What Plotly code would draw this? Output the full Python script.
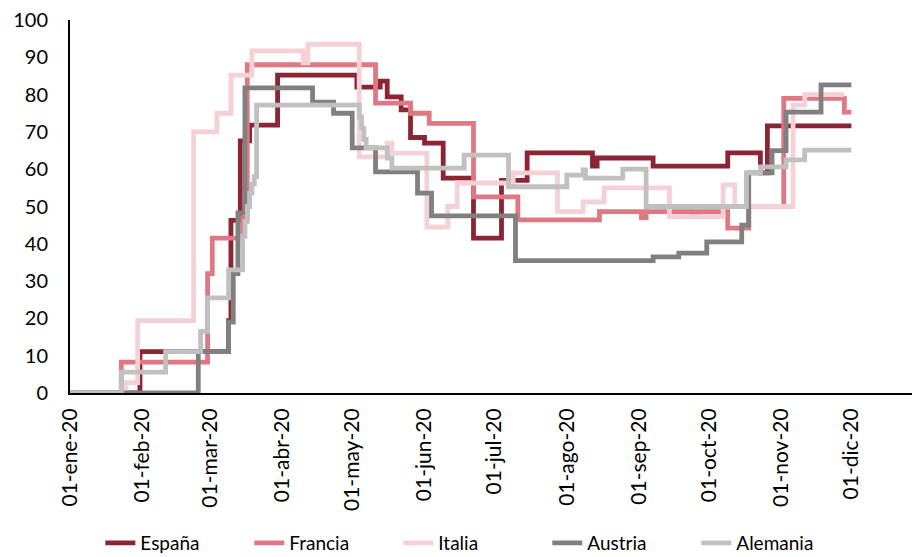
import plotly.graph_objects as go

# ---- data (step change points, OxCGRT-like stringency index) ----
espana_dates = ["2020-01-01", "2020-01-31", "2020-03-09", "2020-03-10", "2020-03-14", "2020-03-18",
                "2020-03-30", "2020-05-03", "2020-05-13", "2020-05-16", "2020-05-22", "2020-05-26",
                "2020-06-01", "2020-06-09", "2020-06-22", "2020-07-04", "2020-07-15", "2020-08-12",
                "2020-08-14", "2020-09-07", "2020-10-09", "2020-10-23", "2020-10-26", "2020-12-01"]
espana_vals = [0, 11.1, 19.4, 46.3, 67.6, 71.8,
               85.2, 82.0, 83.6, 79.4, 75.9, 68.5,
               67.0, 57.6, 41.5, 57.0, 64.4, 60.8,
               63.0, 60.8, 64.4, 59.0, 71.6, 71.6]

francia_dates = ["2020-01-01", "2020-01-23", "2020-02-29", "2020-03-02", "2020-03-15", "2020-03-17",
                 "2020-05-11", "2020-05-26", "2020-06-03", "2020-06-22", "2020-07-11", "2020-08-15",
                 "2020-09-02", "2020-09-04", "2020-09-24", "2020-09-26", "2020-10-09", "2020-10-18",
                 "2020-11-02", "2020-11-28", "2020-12-01"]
francia_vals = [0, 8.3, 32.0, 41.5, 47.0, 88.0,
                77.7, 75.0, 72.3, 52.6, 46.4, 48.6,
                47.0, 48.6, 47.5, 48.6, 44.2, 50.0,
                79.0, 75.3, 75.3]

italia_dates = ["2020-01-01", "2020-01-25", "2020-01-30", "2020-02-23", "2020-03-04", "2020-03-10",
                "2020-03-19", "2020-04-10", "2020-04-12", "2020-05-04", "2020-05-16", "2020-05-18",
                "2020-06-02", "2020-06-11", "2020-06-15", "2020-07-09", "2020-07-28", "2020-08-08",
                "2020-08-17", "2020-09-14", "2020-10-07", "2020-10-12", "2020-11-06", "2020-11-11",
                "2020-11-28"]
italia_vals = [0, 2.8, 19.4, 70.0, 75.0, 85.2,
               91.7, 88.5, 93.5, 63.3, 67.0, 64.3,
               44.5, 50.0, 56.3, 59.0, 48.6, 51.2,
               55.0, 47.3, 55.8, 50.0, 77.2, 80.0,
               80.0]

austria_dates = ["2020-01-01", "2020-02-25", "2020-03-09", "2020-03-11", "2020-03-13", "2020-03-16",
                 "2020-04-14", "2020-04-23", "2020-05-01", "2020-05-11", "2020-05-29", "2020-06-04",
                 "2020-07-10", "2020-09-07", "2020-09-18", "2020-09-30", "2020-10-15", "2020-10-18",
                 "2020-10-28", "2020-11-03", "2020-11-18", "2020-12-01"]
austria_vals = [0, 11.1, 19.0, 32.0, 48.3, 81.8,
                78.0, 75.0, 65.7, 59.3, 53.6, 47.5,
                35.5, 36.5, 37.5, 40.5, 45.0, 59.0,
                65.0, 75.3, 82.6, 82.6]

alemania_dates = ["2020-01-01", "2020-01-23", "2020-02-11", "2020-02-26", "2020-02-29", "2020-03-09",
                  "2020-03-15", "2020-03-16", "2020-03-17", "2020-03-18", "2020-03-19", "2020-03-20",
                  "2020-03-21", "2020-05-04", "2020-05-05", "2020-05-06", "2020-05-07", "2020-05-16",
                  "2020-05-18", "2020-06-18", "2020-07-07", "2020-08-01", "2020-08-08", "2020-08-09",
                  "2020-08-25", "2020-09-04", "2020-10-17", "2020-10-23", "2020-11-03", "2020-11-11",
                  "2020-12-01"]
alemania_vals = [0, 5.6, 11.1, 16.5, 25.5, 33.0,
                 42.0, 46.0, 50.0, 53.6, 56.0, 58.0,
                 77.2, 74.0, 71.0, 68.0, 65.7, 63.0,
                 60.3, 63.8, 55.3, 58.4, 59.8, 57.6,
                 60.0, 50.0, 59.0, 60.6, 62.5, 65.1,
                 65.1]

tick_dates = ["2020-01-01", "2020-02-01", "2020-03-01", "2020-04-01", "2020-05-01", "2020-06-01",
              "2020-07-01", "2020-08-01", "2020-09-01", "2020-10-01", "2020-11-01", "2020-12-01"]
tick_labels = ["01-ene-20", "01-feb-20", "01-mar-20", "01-abr-20", "01-may-20", "01-jun-20",
               "01-jul-20", "01-ago-20", "01-sep-20", "01-oct-20", "01-nov-20", "01-dic-20"]

series = [
    ("España", espana_dates, espana_vals, "#8C2533"),
    ("Francia", francia_dates, francia_vals, "#DF7883"),
    ("Italia", italia_dates, italia_vals, "#F4D1D6"),
    ("Austria", austria_dates, austria_vals, "#808080"),
    ("Alemania", alemania_dates, alemania_vals, "#C0C0C0"),
]

FONT = "Lato"

fig = go.Figure()
for name, d, v, c in series:
    fig.add_trace(go.Scatter(x=d, y=v, name=name, mode="lines",
                             line=dict(color=c, width=4.8, shape="hv")))

fig.update_layout(
    width=912, height=557,
    margin=dict(l=70, r=0, t=20, b=164, autoexpand=False),
    paper_bgcolor="white", plot_bgcolor="white",
    font=dict(family=FONT, size=20, color="black"),
    showlegend=True,
    legend=dict(orientation="h", x=0.036, xanchor="left", y=-0.402, yanchor="middle",
                font=dict(family=FONT, size=19, color="black"),
                entrywidth=104, entrywidthmode="pixels",
                itemwidth=30, tracegroupgap=0, bgcolor="rgba(0,0,0,0)"),
    xaxis=dict(type="date", range=["2020-01-01", "2020-12-27"], automargin=False,
               tickmode="array", tickvals=tick_dates, ticktext=tick_labels,
               tickangle=-90, tickfont=dict(family=FONT, size=21, color="black"),
               showgrid=False, zeroline=False, showline=True, linecolor="black", linewidth=2,
               ticks="", ticklabelstandoff=5),
    yaxis=dict(range=[0, 100], tickmode="linear", tick0=0, dtick=10, automargin=False,
               tickfont=dict(family=FONT, size=20, color="black"),
               showgrid=False, zeroline=False, showline=True, linecolor="black", linewidth=2,
               ticks="", ticklabelstandoff=16),
)

fig.write_html("out.html", config={"displayModeBar": False, "staticPlot": True},
               post_script="document.body.style.margin='0';document.body.style.overflow='hidden';")
